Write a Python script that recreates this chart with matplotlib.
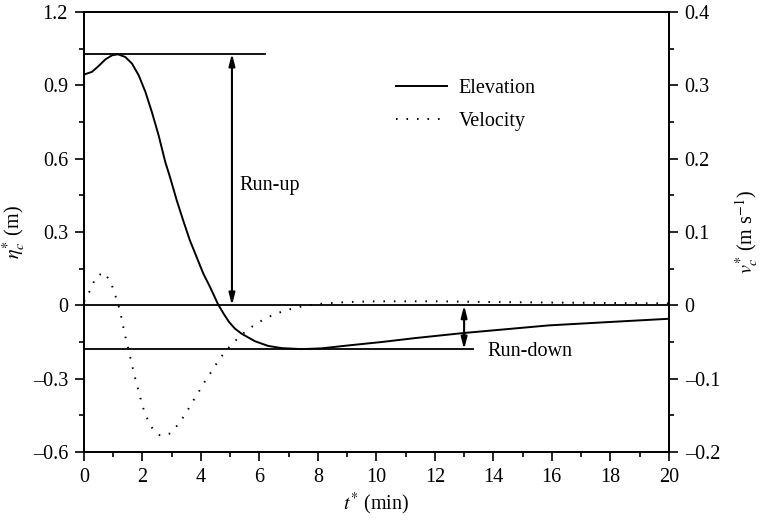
import matplotlib.pyplot as plt
from matplotlib.ticker import MultipleLocator, FuncFormatter

plt.rcParams['font.family'] = ['Liberation Serif', 'DejaVu Serif']
plt.rcParams['mathtext.fontset'] = 'stix'

# elevation eta_c* (m) against t* (min)
t_elev = [0.0, 0.27, 0.50, 0.73, 0.96, 1.16, 1.41, 1.64, 1.87, 2.10, 2.32,
          2.55, 2.78, 2.94, 3.17, 3.39, 3.62, 3.85, 4.08, 4.31, 4.59, 4.78,
          4.96, 5.16, 5.39, 5.85, 6.30, 6.76, 7.44, 8.12, 9.04, 10.18,
          11.32, 13.0, 15.9, 18.0, 20.0]
elev = [0.944, 0.955, 0.979, 1.006, 1.023, 1.027, 1.016, 0.989, 0.941, 0.873,
        0.791, 0.696, 0.586, 0.525, 0.43, 0.348, 0.266, 0.198, 0.13, 0.075,
        0.003, -0.035, -0.068, -0.095, -0.116, -0.147, -0.166, -0.175,
        -0.179, -0.176, -0.164, -0.150, -0.134, -0.113, -0.082, -0.068,
        -0.055]

# velocity v_c* (m/s) against t* (min)
t_vel = [0.0, 0.11, 0.26, 0.40, 0.66, 0.89, 1.01, 1.11, 1.21, 1.28, 1.34,
         1.41, 1.49, 1.56, 1.63, 1.71, 1.78, 1.87, 1.95, 2.04, 2.17, 2.34,
         2.61, 2.92, 3.21, 3.44, 3.62, 3.81, 4.0, 4.19, 4.40, 4.60, 4.85,
         5.13, 5.42, 5.75, 6.07, 6.39, 6.71, 7.02, 7.34, 7.67, 7.98, 9.0,
         10.0, 12.0, 14.0, 16.0, 18.0, 20.0]
vel = [0.005, 0.0123, 0.025, 0.038, 0.045, 0.034, 0.021, 0.0086, -0.0045,
       -0.017, -0.029, -0.042, -0.055, -0.067, -0.080, -0.092, -0.105,
       -0.117, -0.130, -0.142, -0.155, -0.168, -0.178, -0.175, -0.163,
       -0.150, -0.138, -0.125, -0.113, -0.100, -0.088, -0.075, -0.062,
       -0.050, -0.039, -0.029, -0.021, -0.0145, -0.0095, -0.0055, -0.0023,
       0.0, 0.0018, 0.0045, 0.0055, 0.0055, 0.0045, 0.0038, 0.0032, 0.0027]

run_up_top = 1.03
run_down_bottom = -0.18

FS = 14.5


def fmt(v, pos):
    if abs(v) < 1e-9:
        return '0'
    return ('%.1f' % v).replace('-', '\u2013')


fig = plt.figure(figsize=(7.61, 5.21), dpi=100)
ax = fig.add_axes([0.1104, 0.1324, 0.7684, 0.8446])
ax2 = ax.twinx()

ax.plot(t_elev, elev, color='black', lw=1.4, label='Elevation')
ax2.plot(t_vel, vel, color='black', lw=1.4, linestyle=(0, (0.8, 4.6)),
         label='Velocity')

# reference lines
ax.axhline(0, color='black', lw=1.3)
ax.plot([0, 6.2], [run_up_top, run_up_top], color='black', lw=1.3)
ax.plot([0, 13.3], [run_down_bottom, run_down_bottom], color='black', lw=1.3)

arrow = dict(arrowstyle='<|-|>,head_length=0.7,head_width=0.18',
             color='black', lw=1.5, shrinkA=0, shrinkB=0, mutation_scale=10)
ax.annotate('', xy=(5.06, run_up_top), xytext=(5.06, 0), arrowprops=arrow)
ax.annotate('', xy=(13.0, 0), xytext=(13.0, run_down_bottom), arrowprops=arrow)
ax.text(5.3, 0.49, 'Run-up', fontsize=FS, va='center', ha='left')
ax.text(13.8, -0.19, 'Run-down', fontsize=FS, va='center', ha='left')

ax.set_xlim(0, 20)
ax.set_ylim(-0.6, 1.2)
ax2.set_ylim(-0.2, 0.4)

ax.xaxis.set_major_locator(MultipleLocator(2))
ax.xaxis.set_minor_locator(MultipleLocator(1))
ax.yaxis.set_major_locator(MultipleLocator(0.3))
ax.yaxis.set_minor_locator(MultipleLocator(0.15))
ax2.yaxis.set_major_locator(MultipleLocator(0.1))
ax2.yaxis.set_minor_locator(MultipleLocator(0.05))
ax.yaxis.set_major_formatter(FuncFormatter(fmt))
ax2.yaxis.set_major_formatter(FuncFormatter(fmt))

for a in (ax, ax2):
    a.tick_params(which='major', direction='out', length=6.5, width=1.2,
                  labelsize=FS, pad=5)
    a.tick_params(which='minor', direction='out', length=3.5, width=1.2)
    for s in a.spines.values():
        s.set_linewidth(1.3)

ax.set_xlabel('$t^{*}$ (min)', fontsize=FS, labelpad=3)
ax.set_ylabel(r'$\eta_c^{*}$ (m)', fontsize=FS)
ax2.set_ylabel(r'$v_c^{*}$ (m s$^{-1}$)', fontsize=FS)
ax.yaxis.set_label_coords(-0.096, 0.5)
ax2.yaxis.set_label_coords(1.111, 0.5)

h1, l1 = ax.get_legend_handles_labels()
h2, l2 = ax2.get_legend_handles_labels()
ax.legend(h1 + h2, l1 + l2, loc='upper left', bbox_to_anchor=(0.503, 0.89),
          frameon=False, fontsize=FS, handlelength=2.5, handletextpad=0.6,
          labelspacing=0.7)

fig.savefig('out.png', dpi=100)
